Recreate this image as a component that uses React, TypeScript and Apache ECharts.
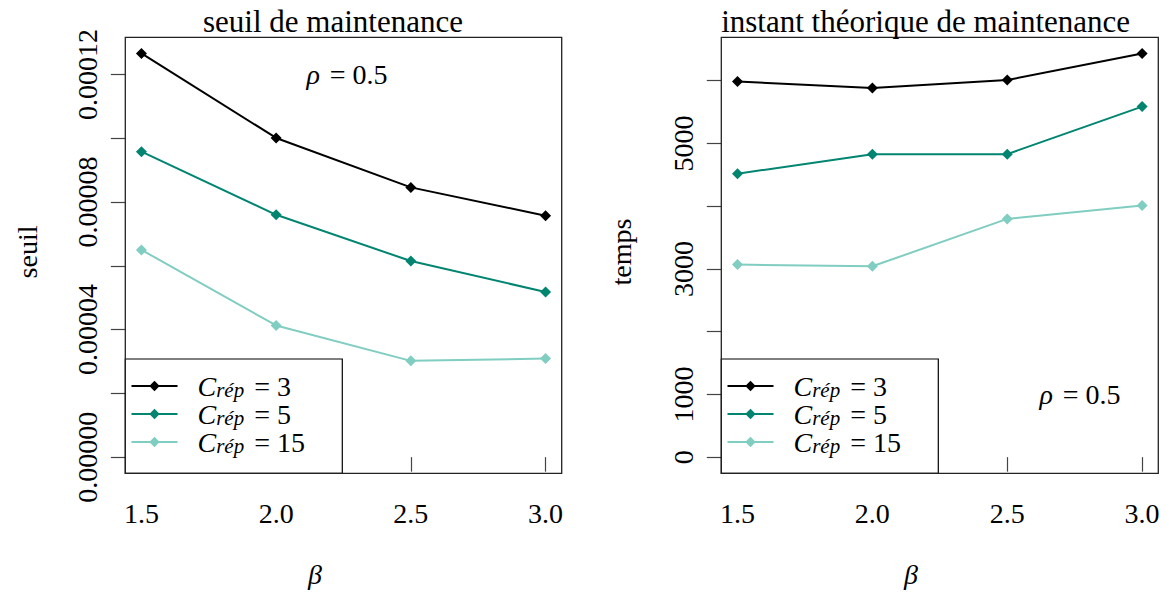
import React, { useEffect, useRef } from "react";
import * as echarts from "echarts";

// ---- data ----
const betas = [1.5, 2.0, 2.5, 3.0];
const costs = ["3", "5", "15"];
const seriesNames = ["C_rép = 3", "C_rép = 5", "C_rép = 15"];
const seuil3 = [0.0001266, 0.0001001, 0.0000846, 0.0000757];
const seuil5 = [0.0000958, 0.000076, 0.0000615, 0.0000518];
const seuil15 = [0.000065, 0.0000413, 0.0000302, 0.0000309];
const temps3 = [5989, 5883, 6011, 6435];
const temps5 = [4518, 4830, 4830, 5588];
const temps15 = [3069, 3042, 3798, 4011];
const seuilTickLabels = ["0.00000", "0.00004", "0.00008", "0.00012"];
const tempsTickLabels = ["0", "1000", "3000", "5000"];
const colors = ["#000000", "#018571", "#80CDC1"];
const titles = ["seuil de maintenance", "instant théorique de maintenance"];
const yTitles = ["seuil", "temps"];

const FONT = "Liberation Serif";
const frames = [
  { x: 125.3, y: 37.3, w: 436.4, h: 436 },
  { x: 721.3, y: 37.3, w: 437, h: 436 },
];

function layout(frame: any, values: number[], tickMax: number) {
  const xlo0 = Math.min(...betas);
  const xhi0 = Math.max(...betas);
  const xr = xhi0 - xlo0;
  const xlo = xlo0 - 0.04 * xr;
  const xhi = xhi0 + 0.04 * xr;
  const M = Math.max(...values);
  const ylo = -0.04 * M;
  const yhi = 1.04 * M;
  const xpx = (v: number) => frame.x + ((v - xlo) / (xhi - xlo)) * frame.w;
  const ypx = (v: number) => frame.y + frame.h - ((v - ylo) / (yhi - ylo)) * frame.h;
  const left = xpx(xlo0);
  const right = xpx(xhi0);
  const top = ypx(tickMax);
  const bottom = ypx(0);
  return {
    grid: { left, top, width: right - left, height: bottom - top },
    xOffset: frame.y + frame.h - bottom,
    yOffset: left - frame.x,
  };
}

export default function App() {
  const ref = useRef<HTMLDivElement>(null);
  useEffect(() => {
    if (!ref.current) return;
    const chart = echarts.init(ref.current, null, { renderer: "svg" });
    const L = layout(frames[0], [...seuil3, ...seuil5, ...seuil15], 0.00012);
    const R = layout(frames[1], [...temps3, ...temps5, ...temps15], 6000);
    const lays = [L, R];
    const panels = [
      { data: [seuil3, seuil5, seuil15], max: 0.00012, interval: 0.00002, fmt: (v: number) => { const s = v.toFixed(5); return seuilTickLabels.includes(s) ? s : ""; } },
      { data: [temps3, temps5, temps15], max: 6000, interval: 1000, fmt: (v: number) => { const s = String(Math.round(v)); return tempsTickLabels.includes(s) ? s : ""; } },
    ];

    const series: any[] = [];
    panels.forEach((p, pi) => {
      p.data.forEach((vals, si) => {
        series.push({
          type: "line",
          name: seriesNames[si],
          xAxisIndex: pi,
          yAxisIndex: pi,
          data: betas.map((b, i) => [b, vals[i]]),
          symbol: "diamond",
          symbolSize: 11,
          clip: false,
          color: colors[si],
          lineStyle: { width: 2, color: colors[si] },
          itemStyle: { color: colors[si] },
          emphasis: { disabled: true },
        });
      });
    });

    const legendRich = {
      c: { fontFamily: FONT, fontStyle: "italic", fontSize: 28, lineHeight: 28, color: "#000", padding: [0, 0, 0, 15] },
      s: { fontFamily: FONT, fontStyle: "italic", fontSize: 21, lineHeight: 12, verticalAlign: "bottom", color: "#000" },
      e: { fontFamily: FONT, fontSize: 28, lineHeight: 28, color: "#000", padding: [0, 0, 0, 10] },
    };
    const legendFmt = (name: string) => {
      const i = seriesNames.indexOf(name);
      return `{c|C}{s|rép}{e|= ${costs[i]}}`;
    };

    const graphic: any[] = [];
    frames.forEach((f) => {
      graphic.push({
        type: "rect", z: 10, silent: true,
        shape: { x: f.x, y: f.y, width: f.w, height: f.h },
        style: { fill: "none", stroke: "#222", lineWidth: 1.3 },
      });
      graphic.push({
        type: "rect", z: 3, silent: true,
        shape: { x: f.x, y: 359, width: 217, height: f.y + f.h - 359 },
        style: { fill: "#fff", stroke: "#000", lineWidth: 1.2 },
      });
    });
    const titleX = [333, 925.6];
    const yTitleX = [27, 621];
    const betaX = [315, 911];
    titles.forEach((t, i) => {
      graphic.push({ type: "text", x: titleX[i], y: 21, z: 10, style: { text: t, font: `31px ${FONT}`, fill: "#000", textAlign: "center", textVerticalAlign: "middle" } });
      graphic.push({ type: "text", x: yTitleX[i], y: 252, rotation: Math.PI / 2, z: 10, style: { text: yTitles[i], font: `28px ${FONT}`, fill: "#000", textAlign: "center", textVerticalAlign: "middle" } });
      graphic.push({ type: "text", x: betaX[i], y: 574, z: 10, style: { text: "β", font: `italic 28px ${FONT}`, fill: "#000", textAlign: "center", textVerticalAlign: "middle" } });
    });
    const rhoPos = [[347, 74], [1080, 394]];
    rhoPos.forEach(([x, y]) => {
      graphic.push({
        type: "text", x, y, z: 10,
        style: {
          text: "{i|ρ}{n|= 0.5}", textAlign: "center", textVerticalAlign: "middle",
          rich: {
            i: { fontFamily: FONT, fontStyle: "italic", fontSize: 28, color: "#000" },
            n: { fontFamily: FONT, fontSize: 28, color: "#000", padding: [0, 0, 0, 10] },
          },
        },
      });
    });

    const option: any = {
      animation: false,
      backgroundColor: "#fff",
      textStyle: { fontFamily: FONT },
      grid: lays.map((l) => ({ ...l.grid, containLabel: false })),
      xAxis: lays.map((l, i) => ({
        type: "value", gridIndex: i, min: 1.5, max: 3.0, interval: 0.5,
        offset: l.xOffset,
        axisLine: { show: false },
        axisTick: { show: true, length: 14.5, lineStyle: { color: "#444", width: 1.2 } },
        splitLine: { show: false },
        axisLabel: { margin: 26, fontSize: 28, fontFamily: FONT, color: "#000", formatter: (v: number) => v.toFixed(1) },
      })),
      yAxis: lays.map((l, i) => ({
        type: "value", gridIndex: i, min: 0, max: panels[i].max, interval: panels[i].interval,
        offset: l.yOffset,
        axisLine: { show: false },
        axisTick: { show: true, length: 14.5, lineStyle: { color: "#444", width: 1.2 } },
        splitLine: { show: false },
        axisLabel: {
          rotate: 90, align: "center", verticalAlign: "bottom", margin: 24,
          fontSize: 28, fontFamily: FONT, color: "#000", formatter: panels[i].fmt,
        },
      })),
      legend: [130.5, 726.5].map((left) => ({
        left, top: 372, orient: "vertical", padding: 0, itemGap: 0,
        itemWidth: 46, itemHeight: 13, selectedMode: false,
        data: seriesNames,
        formatter: legendFmt,
        textStyle: { fontFamily: FONT, rich: legendRich },
      })),
      graphic,
      series,
    };
    chart.setOption(option);
    return () => chart.dispose();
  }, []);
  return (
    <div
      ref={ref}
      style={{ position: "absolute", left: 0, top: 0, width: 1169, height: 594, background: "#fff" }}
    />
  );
}
